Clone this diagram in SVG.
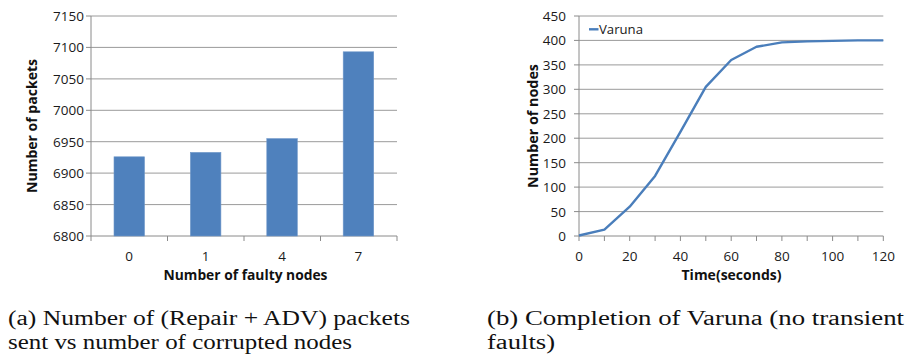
<svg xmlns="http://www.w3.org/2000/svg" width="907" height="354" viewBox="0 0 907 354">
<style>
.bg{fill:#ffffff}
.grid{stroke:#9a9a9a;stroke-width:1;fill:none}
.axis{stroke:#8a8a8a;stroke-width:1;fill:none}
.tick{font-family:"Open Sans","Liberation Sans",sans-serif;font-size:13.5px;fill:#1a1a1a}
.title{font-family:"Open Sans","Liberation Sans",sans-serif;font-size:15px;font-weight:bold;fill:#111111}
.bar{fill:#4f81bd;stroke:#6f97c9;stroke-width:0.6}
.series{stroke:#4a7ebb;stroke-width:2.4;fill:none;stroke-linejoin:round}
.cap{font-family:"Liberation Serif","DejaVu Serif",serif;font-size:20px;fill:#111111}
</style>
<rect class="bg" x="0" y="0" width="907" height="354"/>

<g id="chart-a">
  <g id="a-grid">
    <path class="grid" d="M91 16H397M91 47.4H397M91 78.9H397M91 110.3H397M91 141.7H397M91 173.1H397M91 204.6H397"/>
  </g>
  <g id="a-axes">
    <path class="axis" d="M91 16V236H397"/>
    <path class="axis" d="M86 16H91M86 47.4H91M86 78.9H91M86 110.3H91M86 141.7H91M86 173.1H91M86 204.6H91M86 236H91"/>
    <path class="axis" d="M91 236V241M167.5 236V241M244 236V241M320.5 236V241M397 236V241"/>
  </g>
  <g id="a-bars">
    <rect class="bar" x="114" y="156.8" width="30.5" height="79.2"/>
    <rect class="bar" x="190.4" y="152.4" width="30.5" height="83.6"/>
    <rect class="bar" x="266.8" y="138.6" width="30.5" height="97.4"/>
    <rect class="bar" x="343.2" y="51.8" width="30.5" height="184.2"/>
  </g>
  <g id="a-ylabels" text-anchor="end">
    <text class="tick" x="84" y="21">7150</text>
    <text class="tick" x="84" y="52.4">7100</text>
    <text class="tick" x="84" y="83.9">7050</text>
    <text class="tick" x="84" y="115.3">7000</text>
    <text class="tick" x="84" y="146.7">6950</text>
    <text class="tick" x="84" y="178.1">6900</text>
    <text class="tick" x="84" y="209.6">6850</text>
    <text class="tick" x="84" y="241">6800</text>
  </g>
  <g id="a-xlabels" text-anchor="middle">
    <text class="tick" x="129.2" y="260.5">0</text>
    <text class="tick" x="205.6" y="260.5">1</text>
    <text class="tick" x="282" y="260.5">4</text>
    <text class="tick" x="358.4" y="260.5">7</text>
  </g>
  <text id="a-xtitle" class="title" x="245.5" y="280" text-anchor="middle" textLength="164" lengthAdjust="spacingAndGlyphs">Number of faulty nodes</text>
  <text id="a-ytitle" class="title" transform="translate(37 126) rotate(-90)" x="0" y="0" text-anchor="middle" textLength="134" lengthAdjust="spacingAndGlyphs">Number of packets</text>
</g>

<g id="chart-b">
  <g id="b-grid">
    <path class="grid" d="M579 16H883.3M579 40.4H883.3M579 64.9H883.3M579 89.3H883.3M579 113.8H883.3M579 138.2H883.3M579 162.7H883.3M579 187.1H883.3M579 211.6H883.3"/>
  </g>
  <g id="b-axes">
    <path class="axis" d="M579 16V236H883.3"/>
    <path class="axis" d="M574 16H579M574 40.4H579M574 64.9H579M574 89.3H579M574 113.8H579M574 138.2H579M574 162.7H579M574 187.1H579M574 211.6H579M574 236H579"/>
    <path class="axis" d="M579 236V241M604.4 236V241M629.7 236V241M655.1 236V241M680.4 236V241M705.8 236V241M731.2 236V241M756.5 236V241M781.9 236V241M807.2 236V241M832.6 236V241M857.9 236V241M883.3 236V241"/>
  </g>
  <polyline id="b-series" class="series" points="579,235.5 604.4,229.6 629.7,206.7 655.1,175.9 680.4,131.9 705.8,86.9 731.2,60 756.5,46.8 781.9,42.4 807.2,41.4 832.6,40.9 857.9,40.4 883.3,40.4"/>
  <g id="b-legend">
    <line class="series" x1="589" y1="29.3" x2="598.5" y2="29.3"/>
    <text class="tick" x="599" y="34" textLength="44" lengthAdjust="spacingAndGlyphs">Varuna</text>
  </g>
  <g id="b-ylabels" text-anchor="end">
    <text class="tick" x="566" y="21">450</text>
    <text class="tick" x="566" y="45.4">400</text>
    <text class="tick" x="566" y="69.9">350</text>
    <text class="tick" x="566" y="94.3">300</text>
    <text class="tick" x="566" y="118.8">250</text>
    <text class="tick" x="566" y="143.2">200</text>
    <text class="tick" x="566" y="167.7">150</text>
    <text class="tick" x="566" y="192.1">100</text>
    <text class="tick" x="566" y="216.6">50</text>
    <text class="tick" x="566" y="241">0</text>
  </g>
  <g id="b-xlabels" text-anchor="middle">
    <text class="tick" x="579" y="260.5">0</text>
    <text class="tick" x="629.7" y="260.5">20</text>
    <text class="tick" x="680.4" y="260.5">40</text>
    <text class="tick" x="731.2" y="260.5">60</text>
    <text class="tick" x="781.9" y="260.5">80</text>
    <text class="tick" x="832.6" y="260.5">100</text>
    <text class="tick" x="883.3" y="260.5">120</text>
  </g>
  <text id="b-xtitle" class="title" x="731.5" y="280" text-anchor="middle" textLength="100" lengthAdjust="spacingAndGlyphs">Time(seconds)</text>
  <text id="b-ytitle" class="title" transform="translate(537.5 126) rotate(-90)" x="0" y="0" text-anchor="middle" textLength="124" lengthAdjust="spacingAndGlyphs">Number of nodes</text>
</g>

<g id="captions">
  <text class="cap" x="8" y="325" textLength="402" lengthAdjust="spacingAndGlyphs">(a) Number of (Repair + ADV) packets</text>
  <text class="cap" x="8" y="348.5" textLength="344" lengthAdjust="spacingAndGlyphs">sent vs number of corrupted nodes</text>
  <text class="cap" x="487" y="325" textLength="417" lengthAdjust="spacingAndGlyphs">(b) Completion of Varuna (no transient</text>
  <text class="cap" x="487" y="348.5" textLength="68" lengthAdjust="spacingAndGlyphs">faults)</text>
</g>
</svg>
